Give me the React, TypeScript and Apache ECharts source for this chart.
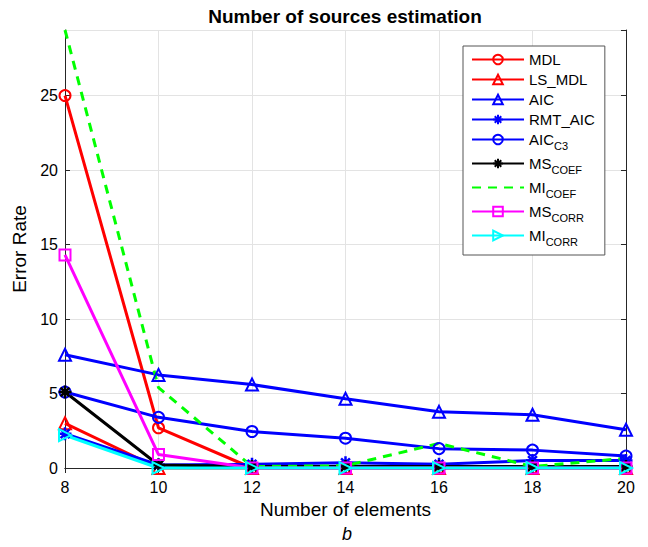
import React, { useEffect, useRef } from "react";
import * as echarts from "echarts";

const xValues = [8, 10, 12, 14, 16, 18, 20];
const mdl = [25, 2.7, 0, 0, 0, 0, 0];
const lsMdl = [3.0, 0, 0, 0, 0, 0, 0];
const aic = [7.6, 6.25, 5.6, 4.65, 3.77, 3.57, 2.57];
const rmtAic = [2.3, 0.2, 0.25, 0.35, 0.25, 0.5, 0.5];
const aicC3 = [5.1, 3.4, 2.45, 2.0, 1.3, 1.2, 0.8];
const msCoef = [5.1, 0.2, 0.1, 0.1, 0.1, 0.1, 0.1];
const miCoef = [29.4, 5.4, 0.1, 0.15, 1.65, 0.1, 0.65];
const msCorr = [14.3, 0.9, 0, 0, 0, 0, 0];
const miCorr = [2.2, 0, 0, 0, 0, 0, 0];
const yTicks = [0, 5, 10, 15, 20, 25];

const FONT = "'Liberation Sans', Arial, Helvetica, sans-serif";
const STAR = "path://M5,0L5,10M0,5L10,5M1.6,1.6L8.4,8.4M8.4,1.6L1.6,8.4";

const legendLabels: Record<string, string> = {
  MDL: "{a|MDL}",
  LS_MDL: "{a|LS_MDL}",
  AIC: "{a|AIC}",
  RMT_AIC: "{a|RMT_AIC}",
  AIC_C3: "{a|AIC}{s|C3}",
  MS_COEF: "{a|MS}{s|COEF}",
  MI_COEF: "{a|MI}{s|COEF}",
  MS_CORR: "{a|MS}{s|CORR}",
  MI_CORR: "{a|MI}{s|CORR}",
};

function pairs(vals: number[]) {
  return xValues.map((x, i) => [x, vals[i]]);
}

function mk(name: string, vals: number[], color: string, symbol: string, extra: any = {}) {
  const isPath = symbol.startsWith("path://");
  const noMarker = !!extra.noMarker;
  return {
    name,
    type: "line",
    data: pairs(vals),
    symbol,
    symbolSize: isPath ? 13 : extra.size || 12,
    showSymbol: !noMarker,
    color,
    lineStyle: { color, width: 3, type: extra.dashed ? [9, 7] : "solid" },
    itemStyle: noMarker
      ? { color, opacity: 0 }
      : { color: "none", borderColor: color, borderWidth: isPath ? 2.5 : 2 },
    symbolRotate: extra.rotate || 0,
    clip: false,
  };
}

export default function App() {
  const ref = useRef<HTMLDivElement>(null);
  useEffect(() => {
    if (!ref.current) return;
    const chart = echarts.init(ref.current, null, { renderer: "svg" });
    const axisCommon = {
      type: "value",
      axisLine: { show: true, lineStyle: { color: "#262626", width: 1 } },
      axisTick: { show: true, inside: true, length: 5, lineStyle: { color: "#262626" } },
    };
    chart.setOption({
      animation: false,
      backgroundColor: "#ffffff",
      textStyle: { fontFamily: FONT },
      title: {
        text: "Number of sources estimation",
        left: 345,
        top: 7,
        padding: 0,
        textAlign: "center",
        textStyle: { fontFamily: FONT, fontSize: 19, fontWeight: "bold", color: "#000" },
      },
      grid: { left: 65, right: 22, top: 30, bottom: 79 },
      xAxis: [
        {
          ...axisCommon,
          position: "bottom",
          min: 8,
          max: 20,
          interval: 2,
          name: "Number of elements",
          nameLocation: "middle",
          nameGap: 32,
          nameTextStyle: { fontFamily: FONT, fontSize: 19, color: "#000" },
          axisLabel: { fontFamily: FONT, fontSize: 16, color: "#000", margin: 11 },
          splitLine: { show: true, lineStyle: { color: "#e3e3e3", width: 1 } },
        },
        {
          ...axisCommon,
          position: "top",
          min: 8,
          max: 20,
          interval: 2,
          axisLabel: { show: false },
          splitLine: { show: false },
        },
      ],
      yAxis: [
        {
          ...axisCommon,
          position: "left",
          min: yTicks[0],
          max: 29.4,
          interval: yTicks[1] - yTicks[0],
          name: "Error Rate",
          nameLocation: "middle",
          nameGap: 25,
          nameTextStyle: { fontFamily: FONT, fontSize: 19, color: "#000" },
          axisLabel: { fontFamily: FONT, fontSize: 16, color: "#000", margin: 7, showMaxLabel: false },
          splitLine: { show: true, lineStyle: { color: "#e3e3e3", width: 1 } },
        },
        {
          ...axisCommon,
          position: "right",
          min: yTicks[0],
          max: 29.4,
          interval: yTicks[1] - yTicks[0],
          axisLabel: { show: false },
          splitLine: { show: false },
        },
      ],
      legend: {
        orient: "vertical",
        left: 463,
        top: 46,
        backgroundColor: "#ffffff",
        borderColor: "#555555",
        borderWidth: 1,
        borderRadius: 0,
        padding: [6, 10, 8, 8],
        itemWidth: 52,
        itemHeight: 12,
        itemGap: 5,
        formatter: (name: string) => legendLabels[name] || name,
        textStyle: {
          fontFamily: FONT,
          color: "#000",
          rich: {
            a: { fontFamily: FONT, fontSize: 15, color: "#000" },
            s: { fontFamily: FONT, fontSize: 11, color: "#000", padding: [12, 0, 0, 0] },
          },
        },
      },
      series: [
        mk("MDL", mdl, "#ff0000", "circle", { size: 11 }),
        mk("LS_MDL", lsMdl, "#ff0000", "triangle"),
        mk("AIC", aic, "#0000ff", "triangle"),
        mk("RMT_AIC", rmtAic, "#0000ff", STAR),
        mk("AIC_C3", aicC3, "#0000ff", "circle", { size: 11 }),
        mk("MS_COEF", msCoef, "#000000", STAR),
        mk("MI_COEF", miCoef, "#00ff00", "circle", { dashed: true, noMarker: true }),
        mk("MS_CORR", msCorr, "#ff00ff", "rect", { size: 11 }),
        mk("MI_CORR", miCorr, "#00ffff", "triangle", { rotate: -90 }),
      ],
      graphic: [
        {
          type: "text",
          x: 347,
          y: 534,
          style: {
            text: "b",
            font: `italic 18px ${FONT}`,
            fill: "#000",
            textAlign: "center",
            textVerticalAlign: "middle",
          },
        },
      ],
    });
    return () => chart.dispose();
  }, []);
  return (
    <div
      ref={ref}
      style={{ position: "fixed", left: 0, top: 0, width: 648, height: 547, background: "#fff" }}
    />
  );
}
